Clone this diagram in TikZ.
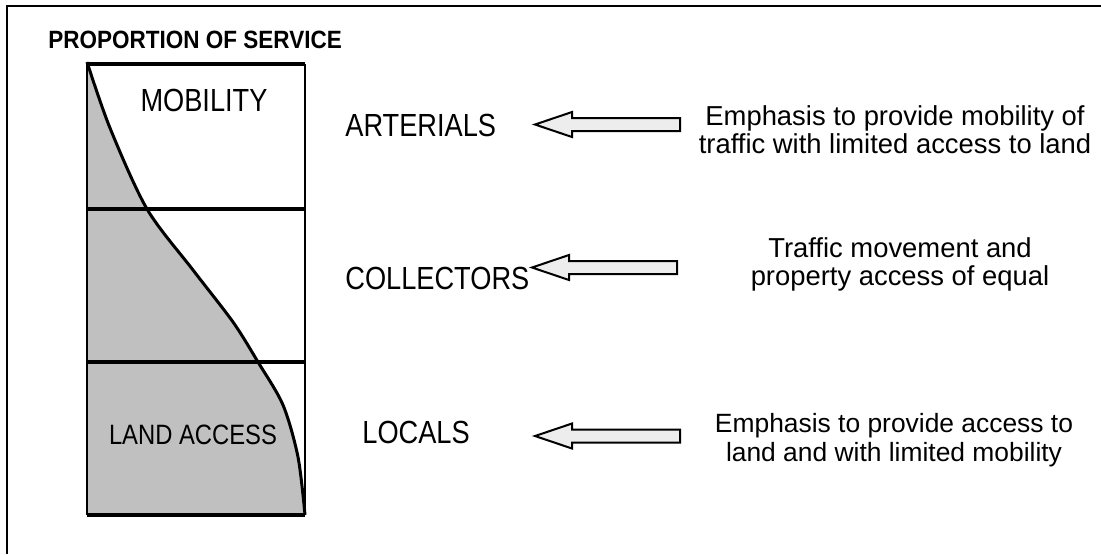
\documentclass[tikz,border=0pt]{standalone}
\usepackage{fontspec}
\setmainfont{Liberation Sans}
\usetikzlibrary{positioning}

\definecolor{shadegray}{HTML}{C0C0C0}
\definecolor{arrowgray}{HTML}{EDEDED}

\newcommand{\narrow}[1]{\scalebox{.85}[1]{#1}}

\tikzset{
  divline/.style={line width=1.8pt},
  sideline/.style={line width=1.2pt},
  tier/.style={font=\fontsize{16}{18}\selectfont, inner sep=0pt},
  note/.style={align=center, font=\fontsize{13.7}{14}\selectfont, inner sep=0pt},
  blockarrow/.style={draw, line width=1pt, fill=arrowgray, line join=miter}
}

\begin{document}
\begin{tikzpicture}[x=0.5pt, y=-0.5pt]
        \useasboundingbox (0,0) rectangle (1101,554);

        % Outer frame
        \draw[line width=1.3pt] (7,554) -- (7,6) -- (1101,6);

        % Define chart corners
        \coordinate (TL) at (87,64);
        \coordinate (TR) at (305,64);
        \coordinate (BL) at (87,515);
        \coordinate (BR) at (305,515);

        % Shaded land access share
        \fill[shadegray] (BL) -- plot[smooth] coordinates {(87,62) (110,128) (147,209) (193,270) (233,322) (258,362) (283,405) (298,457) (305,515)} -- cycle;

        % Draw chart box
        \draw[sideline] (TL) -- (BL);
        \draw[sideline] (TR) -- (BR);
        \draw[divline] (TL) -- (TR);
        \draw[divline] (87,209) -- (305,209);
        \draw[divline] (87,362) -- (305,362);
        \draw[divline] (BL) -- (BR);

        % Draw proportion curve
        \draw[line width=1.5pt] plot[smooth] coordinates {(87,62) (110,128) (147,209) (193,270) (233,322) (258,362) (283,405) (298,457) (305,515)};

        % Chart labels
        \node[anchor=west, inner sep=0pt, font=\bfseries\fontsize{12.5}{14}\selectfont] (title) at (48,40) {\scalebox{.9}[1]{PROPORTION OF SERVICE}};
        \node[tier] (mobility) at (204,100) {\narrow{MOBILITY}};
        \node[tier, font=\fontsize{14}{16}\selectfont] (landaccess) at (193,435) {\narrow{LAND ACCESS}};

        % Road classes
        \node[tier, anchor=west] (arterials) at (345,125) {\narrow{ARTERIALS}};
        \node[tier, anchor=west] (collectors) at (345,278) {\narrow{COLLECTORS}};
        \node[tier, anchor=west] (locals) at (362,432) {\narrow{LOCALS}};

        % Descriptions
        \node[note] (artnote) at (895,130) {Emphasis to provide mobility of\\traffic with limited access to land};
        \node[note] (colnote) at (900,264) {Traffic movement and\\property access of equal};
        \node[note, font=\fontsize{13.2}{14.5}\selectfont] (locnote) at (894,440) {Emphasis to provide access to\\land and with limited mobility};

        % Block arrows
        \coordinate (arttip) at (535,124.5);
        \coordinate (coltip) at (532,267.5);
        \coordinate (loctip) at (535,436);
        \foreach \tip in {arttip,coltip,loctip}
          \draw[blockarrow] (\tip) -- ++(37,-12.5) -- ++(0,6) -- ++(108,0) -- ++(0,13) -- ++(-108,0) -- ++(0,6) -- cycle;
    \end{tikzpicture}
\end{document}
